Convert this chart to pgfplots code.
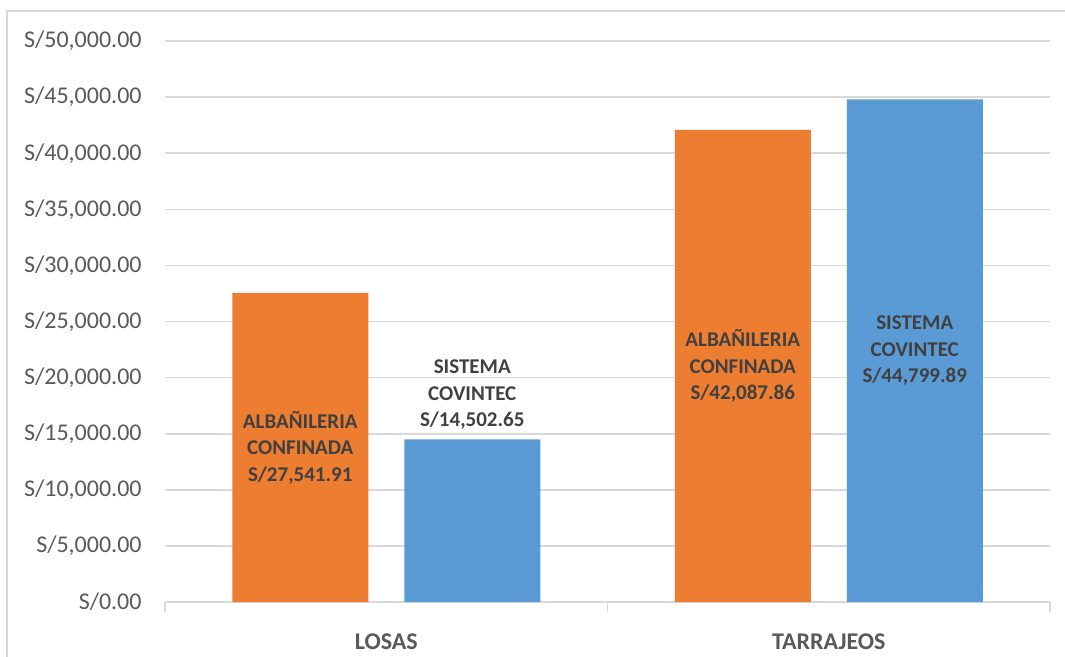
\documentclass[border=0pt]{standalone}
\usepackage{pgfplots}
\pgfplotsset{compat=1.18}
\usepackage{fontspec}
\setmainfont{Carlito}
\definecolor{orng}{HTML}{ED7D31}
\definecolor{blu}{HTML}{5B9BD5}
\definecolor{gridc}{HTML}{D9D9D9}
\definecolor{tickc}{HTML}{595959}
\definecolor{lblc}{HTML}{404040}
\begin{document}
\begin{tikzpicture}
\useasboundingbox (0,0) rectangle (532.5pt,-328.5pt);
\draw[gridc, line width=0.8pt] (3.5pt,-328.5pt) -- (3.5pt,-5.5pt) -- (532.5pt,-5.5pt);
\begin{axis}[
  at={(82.5pt,-301pt)}, anchor=south west,
  width=442.5pt, height=280.5pt, scale only axis,
  xmin=-0.5, xmax=1.5, ymin=0, ymax=50000,
  scaled y ticks=false,
  axis x line*=bottom, axis y line*=left,
  axis line style={-},
  x axis line style={gridc, line width=0.8pt},
  y axis line style={draw=none},
  ytick={0,5000,...,50000},
  yticklabels={{S/0.00},{S/5,000.00},{S/10,000.00},{S/15,000.00},{S/20,000.00},{S/25,000.00},{S/30,000.00},{S/35,000.00},{S/40,000.00},{S/45,000.00},{S/50,000.00}},
  ymajorgrids, grid style={gridc, line width=0.8pt},
  xtick={0,1}, xticklabels={LOSAS,TARRAJEOS},
  minor xtick={-0.5,0.5,1.5},
  major tick length=0pt, minor tick length=5pt, tick align=outside,
  major tick style={draw=none},
  minor x tick style={gridc, line width=0.8pt},
  y tick label style={font=\fontsize{12pt}{14pt}\selectfont, text=tickc, anchor=east, inner sep=0pt, xshift=-11.5pt},
  x tick label style={font=\fontsize{12pt}{14pt}\selectfont\bfseries, text=tickc, anchor=north, inner sep=0pt, yshift=-15.5pt},
  clip=false,
]
\addplot[ybar, bar width=68pt, bar shift=-43pt, fill=orng, draw=none] coordinates {(0,27541.91) (1,42087.86)};
\addplot[ybar, bar width=68pt, bar shift=43pt, fill=blu, draw=none] coordinates {(0,14502.65) (1,44799.89)};
\tikzset{lbl/.style={align=center, font=\fontsize{10.5pt}{13.25pt}\selectfont\bfseries, text=lblc, inner sep=0pt}}
\node[lbl, xshift=-43pt] at (axis cs:0,13770.955) {ALBAÑILERIA\\CONFINADA\\S/27,541.91};
\node[lbl, xshift=43pt] at (axis cs:0,18450) {SISTEMA\\COVINTEC\\S/14,502.65};
\node[lbl, xshift=-43pt] at (axis cs:1,21043.93) {ALBAÑILERIA\\CONFINADA\\S/42,087.86};
\node[lbl, xshift=43pt] at (axis cs:1,22399.945) {SISTEMA\\COVINTEC\\S/44,799.89};
\end{axis}
\end{tikzpicture}
\end{document}
